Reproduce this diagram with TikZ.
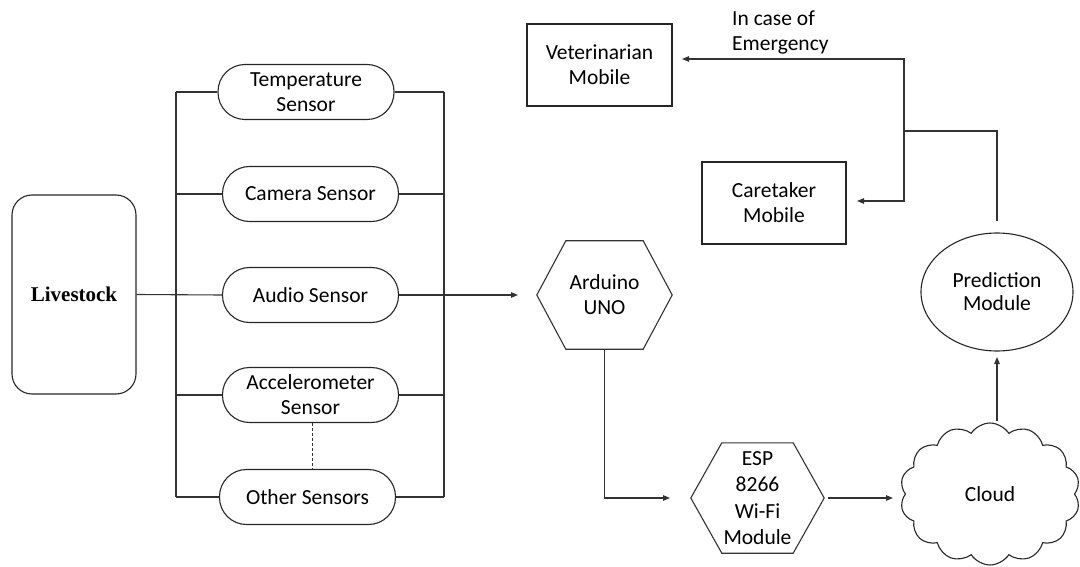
\documentclass[tikz,border=0pt]{standalone}
\usepackage{fontspec}
\setmainfont{Carlito}
\newfontfamily\livefont{Liberation Serif}
\usetikzlibrary{arrows.meta,shapes.geometric,shapes.symbols}
\begin{document}
\begin{tikzpicture}[x=1pt,y=-1pt,
  every node/.style={font=\fontsize{21.5}{25}\selectfont, align=center, inner sep=0pt},
  ln/.style={line width=1.1pt, draw=black!80},
  arr/.style={ln, -{Triangle[length=7pt,width=5.5pt]}},
  sensor/.style={draw=black!85, line width=1.1pt, rounded corners=27pt, minimum width=176pt, minimum height=55pt},
  mobbox/.style={draw=black!85, line width=1.1pt, minimum width=145pt, minimum height=82pt}
]
\useasboundingbox (0,0) rectangle (1080,567);

% Livestock
\node[draw=black!85, line width=1.1pt, rounded corners=20pt, minimum width=124pt, minimum height=199pt,
      font=\livefont\bfseries\fontsize{21}{25}\selectfont] (live) at (74,294.5) {Livestock};

% sensors
\node[sensor] (temp)  at (306,92)    {Temperature\\Sensor};
\node[sensor] (cam)   at (310.5,194) {Camera Sensor};
\node[sensor] (audio) at (310.5,295) {Audio Sensor};
\node[sensor] (acc)   at (310.5,395) {Accelerometer\\Sensor};
\node[sensor] (other) at (307.5,497) {Other Sensors};

\coordinate (lbx) at (176,0);
\coordinate (rbx) at (444,0);

\draw[ln] (live.east) -- (audio.west);
\draw[ln] (temp.west -| lbx) -- (other.west -| lbx);
\foreach \s in {temp,cam,acc,other} {
  \draw[ln] (\s.west -| lbx) -- (\s.west);
  \draw[ln] (\s.east) -- (\s.east -| rbx);
}
\draw[ln] (temp.east -| rbx) -- (other.east -| rbx);
\draw[ln, dashed, dash pattern=on 3pt off 2pt, line width=0.8pt] (acc.south -| 312,0) -- (other.north -| 312,0);

% Arduino
\node[minimum width=135pt, minimum height=108pt] (ard) at (604.5,295) {Arduino\\UNO};
\draw[ln] ([xshift=29pt]ard.north west) -- ([xshift=-29pt]ard.north east) -- (ard.east)
  -- ([xshift=-29pt]ard.south east) -- ([xshift=29pt]ard.south west) -- (ard.west) -- cycle;
\coordinate (ardIn) at (518,295);
\draw[arr] (audio.east) -- (ardIn);

% ESP
\node[minimum width=133pt, minimum height=110pt, font=\fontsize{21.5}{26.5}\selectfont] (esp) at (757.5,498) {ESP\\8266\\Wi-Fi\\Module};
\draw[ln] ([xshift=31pt]esp.north west) -- ([xshift=-31pt]esp.north east) -- (esp.east)
  -- ([xshift=-31pt]esp.south east) -- ([xshift=31pt]esp.south west) -- (esp.west) -- cycle;
\coordinate (espIn) at (670,498);
\draw[arr] (ard.south) |- (espIn);

% Cloud
\node[cloud, draw=black!85, line width=1.1pt, cloud puffs=14, cloud puff arc=115, aspect=1.3,
      minimum width=180pt, minimum height=142pt] (cloud) at (990,494) {Cloud};
\coordinate (espOut) at (828,498);
\coordinate (cloudIn) at (893,498);
\draw[arr] (espOut) -- (cloudIn);

% Prediction
\node[ellipse, draw=black!85, line width=1.1pt, minimum width=152pt, minimum height=118pt,
      font=\fontsize{21.5}{23}\selectfont] (pred) at (997,292) {Prediction\\Module};
\coordinate (cTop) at (997,421);
\coordinate (pBot) at (997,357);
\draw[arr] (cTop) -- (pBot);

% Mobiles
\node[mobbox] (vet)  at (599.5,65) {Veterinarian\\Mobile};
\node[mobbox, minimum width=144pt] (care) at (774,203) {Caretaker\\Mobile};
\node[anchor=west, align=left] (emg) at (732,32) {In case of\\Emergency};

\coordinate (pTop) at (997,221);
\coordinate (br) at (904,131);
\coordinate (vetIn) at (682,59);
\coordinate (careIn) at (857,201);
\draw[ln] (pTop) |- (br);
\draw[arr] (br) |- (vetIn);
\draw[arr] (br) |- (careIn);
\end{tikzpicture}
\end{document}
